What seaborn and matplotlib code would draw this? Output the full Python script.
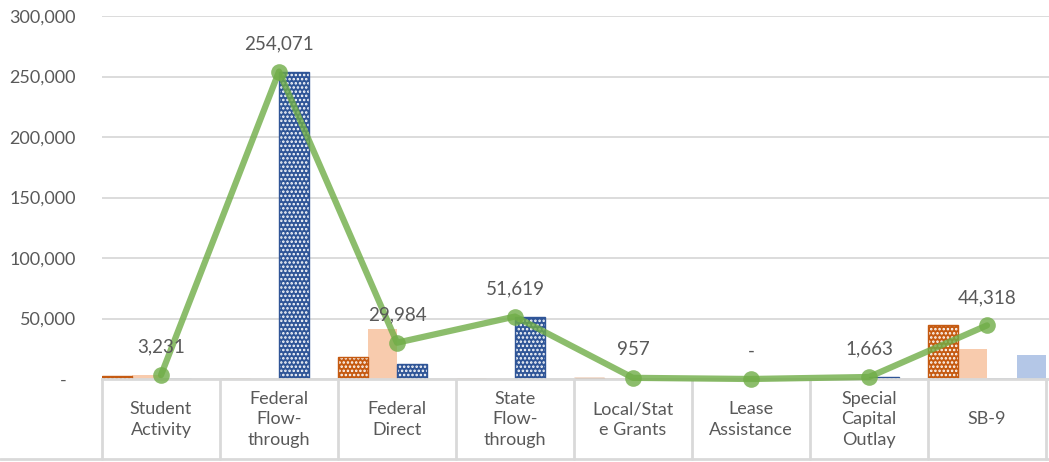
import matplotlib
matplotlib.use("Agg")
import matplotlib.pyplot as plt
import matplotlib.transforms as mtransforms
from matplotlib.patches import Rectangle
from matplotlib.ticker import FuncFormatter
import numpy as np
import pandas as pd
import seaborn as sns

categories = ['Student\nActivity', 'Federal\nFlow-\nthrough', 'Federal\nDirect', 'State\nFlow-\nthrough',
              'Local/Stat\ne Grants', 'Lease\nAssistance', 'Special\nCapital\nOutlay', 'SB-9']
series_names = ['Series 1', 'Series 2', 'Series 3', 'Series 4']
series_1 = [2800, 0, 18300, 0, 700, 0, 0, 44318]
series_2 = [3231, 0, 41300, 0, 957, 0, 0, 24800]
series_3 = [0, 254071, 12400, 51619, 0, 0, 1663, 0]
series_4 = [0, 0, 0, 0, 0, 0, 0, 19800]
line_values = [3231, 254071, 29984, 51619, 957, 0, 1663, 44318]

bar_colors = ['#C55A11', '#F8CBAD', '#2F5597', '#B4C7E7']
hatched = [True, False, True, False]
line_color = '#70AD47'
text_color = '#595959'
grid_color = '#D9D9D9'

df = pd.DataFrame({
    'category': categories * 4,
    'series': [s for s in series_names for _ in categories],
    'value': series_1 + series_2 + series_3 + series_4,
})

sns.set_style('white')
plt.rcParams['font.family'] = ['Lato', 'DejaVu Sans']
plt.rcParams['hatch.linewidth'] = 1.2

fig = plt.figure(figsize=(10.49, 4.62), dpi=100)
ax = fig.add_axes([102 / 1049, 83 / 462, 947 / 1049, 363 / 462])

sns.barplot(data=df, x='category', y='value', hue='series', palette=bar_colors,
            width=1.0, gap=0, legend=False, ax=ax, linewidth=0, saturation=1)

# dotted pattern on the dark bars
for cont, col, h in zip(ax.containers, bar_colors, hatched):
    if not h:
        continue
    for p in cont.patches:
        p.set_hatch('....')
        p.set_edgecolor('white')
        p.set_linewidth(0)
        ax.add_patch(Rectangle(p.get_xy(), p.get_width(), p.get_height(),
                               fill=False, edgecolor=col, linewidth=1.0, zorder=p.get_zorder()))

x_pos = np.arange(len(categories))
sns.lineplot(x=x_pos, y=line_values, color=line_color, linewidth=4.5, alpha=0.8,
             marker='o', markersize=12, markeredgewidth=0, ax=ax, zorder=5, clip_on=False)

for x, v in zip(x_pos, line_values):
    label = f'{v:,}' if v else '-'
    ax.annotate(label, (x, v), xytext=(0, 14), textcoords='offset points',
                ha='center', va='bottom', fontsize=13.5, color=text_color, zorder=6)

ax.set_xlim(-0.5, -0.5 + 947 / 118)
ax.set_ylim(0, 300000)
ax.set_yticks(np.arange(0, 300001, 50000))
ax.yaxis.set_major_formatter(FuncFormatter(lambda v, p: f'{int(v):,}' if v else '-  '))
ax.grid(axis='y', color=grid_color, linewidth=1.3)
ax.set_axisbelow(True)
for s in ['top', 'right', 'left']:
    ax.spines[s].set_visible(False)
ax.spines['bottom'].set_color(grid_color)
ax.spines['bottom'].set_linewidth(2)
ax.tick_params(axis='y', length=0, pad=19, labelsize=13, labelcolor=text_color)
ax.tick_params(axis='x', length=0, pad=29, labelsize=13, labelcolor=text_color)
for lab in ax.get_xticklabels():
    lab.set_va('center')
    lab.set_multialignment('center')
    lab.set_linespacing(1.35)
ax.set_xlabel('')
ax.set_ylabel('')

# table style grid under the axis
trans = mtransforms.blended_transform_factory(ax.transData, ax.transAxes)
bottom = -80 / 363
for b in np.arange(len(categories) + 1) - 0.5:
    ax.plot([b, b], [0, bottom], transform=trans, color=grid_color, linewidth=2, clip_on=False)
ax.plot([-0.5 - 102 / 118, 7.6], [bottom, bottom], transform=trans, color=grid_color,
        linewidth=2, clip_on=False)

fig.savefig('out.png', dpi=100)
